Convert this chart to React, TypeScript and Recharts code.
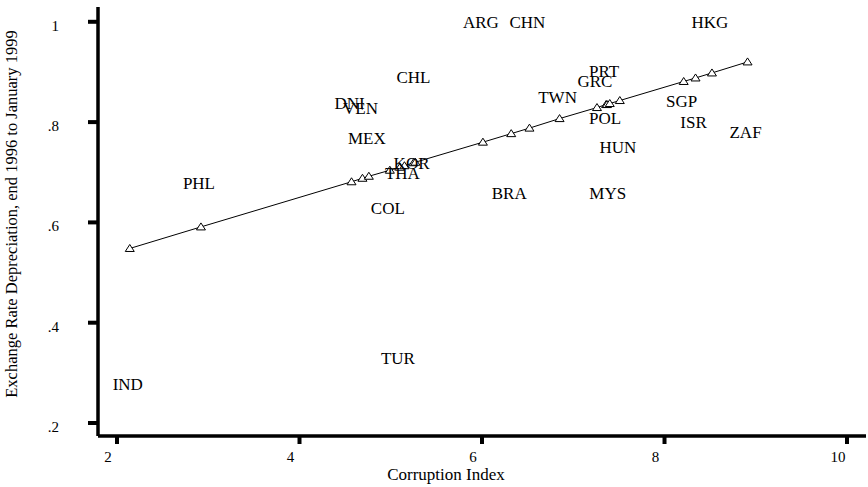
import { ScatterChart, Scatter, XAxis, YAxis } from "recharts"

const countries: string[] = ['IND', 'PHL', 'DNI', 'VEN', 'MEX', 'COL', 'TUR', 'THA', 'KOR', 'CHL', 'ARG', 'BRA', 'CHN', 'TWN', 'GRC', 'PRT', 'POL', 'MYS', 'HUN', 'SGP', 'ISR', 'HKG', 'ZAF']
const corruption: number[] = [2.14, 2.92, 4.57, 4.69, 4.76, 4.99, 5.10, 5.15, 5.25, 5.27, 6.01, 6.32, 6.52, 6.85, 7.26, 7.36, 7.37, 7.40, 7.51, 8.21, 8.34, 8.52, 8.91]
const depreciation: number[] = [0.277, 0.678, 0.839, 0.829, 0.768, 0.629, 0.329, 0.698, 0.719, 0.889, 1.0, 0.659, 1.0, 0.851, 0.881, 0.902, 0.809, 0.659, 0.75, 0.842, 0.801, 1.0, 0.781]
const fitted: number[] = [0.548, 0.591, 0.681, 0.688, 0.692, 0.704, 0.710, 0.713, 0.719, 0.720, 0.760, 0.777, 0.788, 0.807, 0.829, 0.835, 0.835, 0.837, 0.843, 0.881, 0.888, 0.898, 0.920]

const xTicks = [2, 4, 6, 8, 10]
const yTicks = [0.2, 0.4, 0.6, 0.8, 1]

const font = '"Liberation Serif", "Times New Roman", serif'

const labelData = countries.map((name, i) => ({ name, x: corruption[i], y: depreciation[i] }))
const fitData = corruption.map((x, i) => ({ x, y: fitted[i] }))

function fmtY(v: number) {
    if (v === 1) return '1'
    return String(Number(v.toFixed(1))).replace(/^0/, '')
}

const CountryLabel = (props: any) => {
    const { cx, cy, payload } = props
    return (
        <text x={cx} y={cy} dx={-2} dy={6} textAnchor="middle" fontSize={17} fontFamily={font} fill="#000">
            {payload.name}
        </text>
    )
}

const Triangle = (props: any) => {
    const { cx, cy } = props
    const d = `M${cx},${cy - 4} L${cx + 4.5},${cy + 3} L${cx - 4.5},${cy + 3} Z`
    return <path d={d} fill="#fff" stroke="#000" strokeWidth={1} />
}

const XTick = (props: any) => {
    const { x, y, payload } = props
    return (
        <text x={x} y={y} dx={-9} dy={16} textAnchor="middle" fontSize={15} fontFamily={font} fill="#000">
            {payload.value}
        </text>
    )
}

const YTick = (props: any) => {
    const { x, y, payload } = props
    return (
        <text x={x} y={y} dy={9} textAnchor="end" fontSize={15} fontFamily={font} fill="#000">
            {fmtY(payload.value)}
        </text>
    )
}

export default function App() {
    return (
        <div style={{ position: 'absolute', left: 0, top: 0, background: '#fff' }}>
            <ScatterChart width={868} height={487} margin={{ top: 7, right: 2, bottom: 0, left: 0 }} style={{ fontFamily: font }}>
                <XAxis
                    type="number"
                    dataKey="x"
                    domain={[1.7918, 10.208]}
                    ticks={xTicks}
                    allowDataOverflow
                    height={51}
                    stroke="#000"
                    strokeWidth={3.5}
                    axisLine={{ stroke: '#000', strokeWidth: 3.5 }}
                    tickLine={{ stroke: '#000', strokeWidth: 4 }}
                    tickSize={8}
                    tickMargin={2}
                    tick={<XTick />}
                    label={{
                        content: (p: any) => {
                            const vb = p.viewBox
                            return (
                                <text x={vb.x + vb.width / 2 - 36} y={vb.y + 44} textAnchor="middle" fontSize={17} fontFamily={font} fill="#000">
                                    Corruption Index
                                </text>
                            )
                        },
                    }}
                />
                <YAxis
                    type="number"
                    dataKey="y"
                    domain={[0.1741, 1.0295]}
                    ticks={yTicks}
                    allowDataOverflow
                    width={98}
                    stroke="#000"
                    strokeWidth={3.5}
                    axisLine={{ stroke: '#000', strokeWidth: 3.5 }}
                    tickLine={{ stroke: '#000', strokeWidth: 4 }}
                    tickSize={10}
                    tickMargin={29}
                    tick={<YTick />}
                    label={{
                        content: () => (
                            <text x={17} y={214} transform="rotate(-90, 17, 214)" textAnchor="middle" fontSize={16.5} fontFamily={font} fill="#000">
                                Exchange Rate Depreciation, end 1996 to January 1999
                            </text>
                        ),
                    }}
                />
                <Scatter
                    data={fitData}
                    line={{ stroke: '#000', strokeWidth: 1 }}
                    lineType="joint"
                    shape={<Triangle />}
                    isAnimationActive={false}
                />
                <Scatter data={labelData} shape={<CountryLabel />} isAnimationActive={false} />
            </ScatterChart>
        </div>
    )
}
